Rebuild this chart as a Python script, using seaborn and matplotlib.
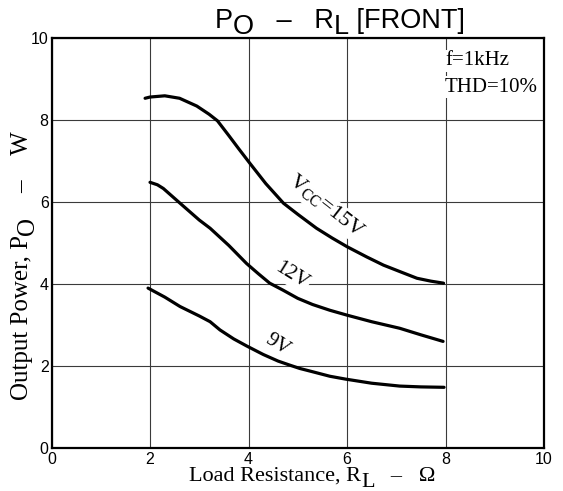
import matplotlib
matplotlib.use("Agg")
import matplotlib.pyplot as plt
import seaborn as sns
import pandas as pd

# Load resistance (ohm) vs output power (W)
r_15v = [1.9, 2.0, 2.3, 2.6, 2.95, 3.2, 3.37, 3.6, 3.8, 4.03, 4.35, 4.71, 5.0, 5.38,
         5.7, 6.0, 6.4, 6.74, 7.1, 7.42, 7.7, 7.96]
p_15v = [8.53, 8.56, 8.59, 8.53, 8.34, 8.14, 7.98, 7.62, 7.30, 6.94, 6.45, 5.97, 5.70, 5.36,
         5.12, 4.91, 4.66, 4.46, 4.29, 4.14, 4.07, 4.02]

r_12v = [2.0, 2.15, 2.27, 2.61, 3.0, 3.22, 3.6, 3.96, 4.2, 4.43, 4.7, 5.0, 5.3, 5.65,
         6.0, 6.5, 7.07, 7.5, 7.95]
p_12v = [6.48, 6.42, 6.33, 5.97, 5.56, 5.36, 4.94, 4.50, 4.25, 4.02, 3.85, 3.65, 3.50, 3.36,
         3.24, 3.08, 2.92, 2.76, 2.60]

r_9v = [1.96, 2.3, 2.61, 3.0, 3.22, 3.42, 3.7, 3.96, 4.3, 4.6, 4.84, 5.04, 5.3, 5.65,
        5.97, 6.5, 7.07, 7.5, 7.97]
p_9v = [3.90, 3.68, 3.45, 3.22, 3.08, 2.88, 2.66, 2.49, 2.28, 2.12, 2.02, 1.94, 1.86, 1.75,
        1.68, 1.58, 1.51, 1.49, 1.48]

ticks = [0, 2, 4, 6, 8, 10]

df = pd.concat([
    pd.DataFrame({"R": r_15v, "P": p_15v, "Vcc": "15V"}),
    pd.DataFrame({"R": r_12v, "P": p_12v, "Vcc": "12V"}),
    pd.DataFrame({"R": r_9v, "P": p_9v, "Vcc": "9V"}),
], ignore_index=True)

sns.set_style("white")
plt.rcParams["font.family"] = ["Liberation Sans", "DejaVu Sans"]
plt.rcParams["text.color"] = "black"
plt.rcParams["xtick.color"] = "black"
plt.rcParams["ytick.color"] = "black"
SERIF = ["Liberation Serif", "DejaVu Serif"]

fig = plt.figure(figsize=(5.63, 4.91), dpi=100)
ax = fig.add_axes([0.0915, 0.0876, 0.8748, 0.835])

sns.lineplot(data=df, x="R", y="P", hue="Vcc", palette=["black"] * 3, legend=False,
             sort=False, estimator=None, lw=2.3, ax=ax)
for ln in ax.lines:
    ln.set_zorder(4)
    ln.set_solid_joinstyle("round")

ax.set_xlim(0, 10)
ax.set_ylim(0, 10)
ax.set_xticks(ticks)
ax.set_yticks(ticks)
ax.set_xlabel("")
ax.set_ylabel("")
ax.grid(True, color="#3a3a3a", lw=0.8)
ax.set_axisbelow(True)
ax.tick_params(axis="both", length=0, labelsize=11.5, labelcolor="black")
ax.tick_params(axis="x", pad=3)
ax.tick_params(axis="y", pad=2)
for sp in ax.spines.values():
    sp.set_color("black")
    sp.set_linewidth(1.6)

box = dict(facecolor="white", edgecolor="none", pad=1.0)

# condition note, top right
ax.text(7.99, 9.34, "f=1kHz", family=SERIF, fontsize=15, ha="left", va="baseline", bbox=box)
ax.text(7.99, 8.69, "THD=10%", family=SERIF, fontsize=15, ha="left", va="baseline", bbox=box)

# curve labels
ax.text(5.57, 5.89, r"V$_{\mathregular{CC}}$=15V", family=SERIF, fontsize=16,
        rotation=-38, ha="center", va="center", bbox=box, zorder=3)
ax.text(4.88, 4.21, "12V", family=SERIF, fontsize=15, rotation=-32,
        ha="center", va="center", bbox=box, zorder=3)
ax.text(4.59, 2.51, "9V", family=SERIF, fontsize=15, rotation=-32,
        ha="center", va="center", bbox=box, zorder=3)


def chain(x, y, parts, vertical=False, **kw):
    # write text pieces one after another; shift (pt) lowers/raises a piece vs the previous one
    if vertical:
        t = fig.text(x, y, parts[0][0], rotation=90, ha="center", va="bottom", **kw)
        for s, shift in parts[1:]:
            t = ax.annotate(s, xy=(0.5, 1), xycoords=t, xytext=(-shift, 0),
                            textcoords="offset points", rotation=90,
                            ha="center", va="bottom", annotation_clip=False, **kw)
    else:
        t = fig.text(x, y, parts[0][0], ha="left", va="baseline", **kw)
        for s, shift in parts[1:]:
            t = ax.annotate(s, xy=(1, 0), xycoords=t, xytext=(0, shift),
                            textcoords="offset points", ha="left", va="bottom",
                            annotation_clip=False, **kw)
    return t


# title
chain(215 / 563, 1 - 28 / 491,
      [("P", 0), ("O", -4.5), ("   \u2013   R", 4.5), ("L", -4.5), (" [FRONT]", 4.5)],
      fontsize=19.5, color="black")

# x label
chain(189 / 563, 1 - 481 / 491,
      [("Load Resistance, R", 0), ("L", -4), ("   \u2013   \u03a9", 4)],
      family=SERIF, fontsize=16, color="black")

# y label
chain(22 / 563, 1 - 400 / 491,
      [("Output Power, P", 0), ("O", -4.5), ("    \u2013    W", 4.5)],
      vertical=True, family=SERIF, fontsize=18, color="black")

fig.savefig("out.png", dpi=100)
